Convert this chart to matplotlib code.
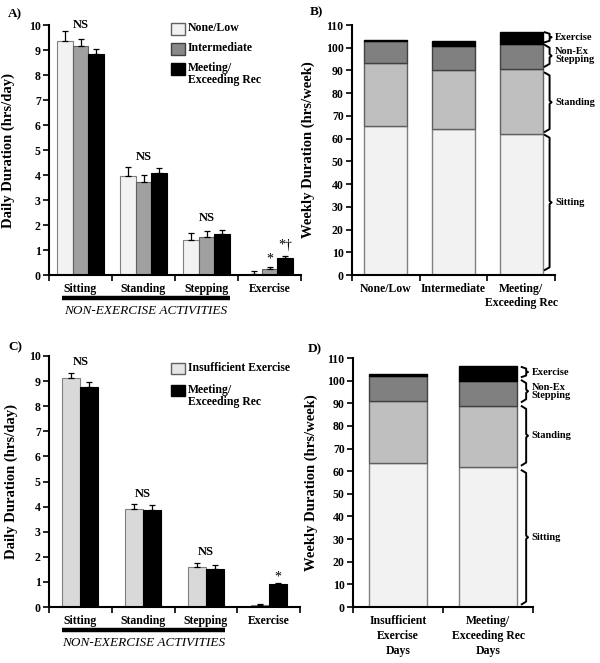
import matplotlib
matplotlib.use("Agg")
import matplotlib.pyplot as plt
import matplotlib.transforms as mtransforms
import numpy as np

plt.rcParams['font.family'] = ['Liberation Serif', 'DejaVu Serif']
plt.rcParams['font.weight'] = 'bold'

# ---------------- data ----------------
activities = ["Sitting", "Standing", "Stepping", "Exercise"]

# Panel A: daily durations (hrs/day) by group
groupsA = ["None/Low", "Intermediate", "Meeting/\nExceeding Rec"]
a_none = [9.37, 3.97, 1.40, 0.03]
a_none_err = [0.38, 0.36, 0.28, 0.12]
a_inter = [9.15, 3.73, 1.53, 0.25]
a_inter_err = [0.30, 0.27, 0.22, 0.08]
a_meet = [8.85, 4.07, 1.63, 0.70]
a_meet_err = [0.20, 0.20, 0.17, 0.07]

# Panel B: weekly durations (hrs/week), stacked
groupsB = ["None/Low", "Intermediate", "Meeting/\nExceeding Rec"]
b_sitting = [65.6, 64.1, 61.9]
b_standing = [27.5, 26.0, 28.6]
b_stepping = [10.0, 10.7, 11.0]
b_exercise = [0.3, 2.0, 5.3]

# Panel C: daily durations (hrs/day) by day type
groupsC = ["Insufficient Exercise", "Meeting/\nExceeding Rec"]
c_insuf = [9.13, 3.91, 1.60, 0.09]
c_insuf_err = [0.20, 0.21, 0.15, 0.04]
c_meet = [8.75, 3.86, 1.53, 0.90]
c_meet_err = [0.22, 0.19, 0.16, 0.07]

# Panel D: weekly durations (hrs/week), stacked
groupsD = ["Insufficient\nExercise\nDays", "Meeting/\nExceeding Rec\nDays"]
d_sitting = [63.6, 61.7]
d_standing = [27.3, 27.1]
d_stepping = [11.2, 11.1]
d_exercise = [1.0, 6.7]

seg_names = ["Exercise", "Non-Ex\nStepping", "Standing", "Sitting"]

# ---------------- style ----------------
C_LIGHT = "#f2f2f2"
C_MID = "#a0a0a0"
C_STAND = "#bfbfbf"
C_STEP = "#808080"
C_BLACK = "#000000"
TICK_FS = 8.5
LBL_FS = 10.5

fig = plt.figure(figsize=(6.0, 6.63), dpi=100)
H = 663.0
W = 600.0


def add_axes(l, r, top, bottom):
    return fig.add_axes([l / W, 1 - bottom / H, (r - l) / W, (bottom - top) / H])


def style_axes(ax, ngroups, ymax, ystep, labels):
    for s in ["top", "right"]:
        ax.spines[s].set_visible(False)
    for s in ["left", "bottom"]:
        ax.spines[s].set_linewidth(1.5)
    ax.set_xlim(0, ngroups)
    ax.set_ylim(0, ymax)
    ax.set_yticks(np.arange(0, ymax + 0.1, ystep))
    ax.tick_params(axis='y', direction='out', length=4, width=1.2, labelsize=TICK_FS, pad=2)
    ax.set_xticks(np.arange(ngroups) + 0.5)
    ax.set_xticklabels(labels, fontsize=TICK_FS, fontweight='bold')
    ax.tick_params(axis='x', which='major', length=0, pad=6)
    ax.set_xticks(np.arange(ngroups + 1), minor=True)
    ax.tick_params(axis='x', which='minor', direction='out', length=4, width=1.2)
    for lab in ax.get_yticklabels():
        lab.set_fontweight('bold')


def legend_boxes(ax, items, x0, tops, bw, bh):
    for (label, color, ec), t in zip(items, tops):
        ax.add_patch(plt.Rectangle((x0, t - bh), bw, bh, transform=ax.transAxes,
                                   facecolor=color, edgecolor=ec, lw=1.0, clip_on=False))
        ax.text(x0 + bw + 0.012, t + 0.006, label, transform=ax.transAxes,
                ha='left', va='top', fontsize=8.5, fontweight='bold', linespacing=1.05)


def non_ex_line(ax, x0, x1, ly, ty):
    tr = mtransforms.blended_transform_factory(ax.transData, ax.transAxes)
    ax.plot([x0, x1], [ly, ly], transform=tr, color='black', lw=3.2,
            solid_capstyle='butt', clip_on=False)
    ax.text((x0 + x1) / 2, ty, "NON-EXERCISE ACTIVITIES", transform=tr,
            ha='center', va='center', fontsize=9.5, fontstyle='italic', fontweight='normal')


def brace(ax, x0, x1, lo, hi, label, xt, fs=7.5):
    d = min(1.2, (hi - lo) * 0.15)
    mid = (lo + hi) / 2
    xm = x0 + (x1 - x0) * 0.7
    xs = [x0, xm, xm, x1, xm, xm, x0]
    ys = [hi, hi - d, mid + d * 0.6, mid, mid - d * 0.6, lo + d, lo]
    ax.plot(xs, ys, color='black', lw=1.4, clip_on=False)
    ax.text(xt, mid, label, ha='left', va='center', fontsize=fs, fontweight='bold',
            linespacing=0.9)


# ---------------- Panel A ----------------
axA = add_axes(49, 301, 25, 275)
x = np.arange(len(activities)) + 0.5
wA = 0.25
err_kw = dict(ecolor='black', elinewidth=0.9, capsize=2.5, capthick=0.9)
for vals, errs, off, fc, ec in [(a_none, a_none_err, -wA, C_LIGHT, '#808080'),
                                (a_inter, a_inter_err, 0.0, C_MID, '#606060'),
                                (a_meet, a_meet_err, wA, C_BLACK, '#000000')]:
    axA.bar(x + off, vals, width=wA, color=fc, edgecolor=ec, lw=0.8,
            yerr=[np.zeros(len(vals)), errs], error_kw=err_kw, zorder=2)
style_axes(axA, 4, 10, 1, activities)
axA.set_ylabel("Daily Duration (hrs/day)", fontsize=LBL_FS, fontweight='bold')
axA.yaxis.set_label_coords(-0.135, 0.5)
for xi, yi in [(0.5, 10.0), (1.5, 4.72), (2.5, 2.27)]:
    axA.text(xi, yi, "NS", ha='center', va='center', fontsize=9, fontweight='bold')
axA.text(3.5, 0.62, "*", ha='center', va='center', fontsize=10, fontweight='normal')
axA.text(3.75, 1.17, "*\u2020", ha='center', va='center', fontsize=10, fontweight='normal')
legend_boxes(axA, [(groupsA[0], C_LIGHT, '#606060'), (groupsA[1], '#888888', '#404040'),
                   (groupsA[2], C_BLACK, '#000000')],
             0.484, [1.008, 0.928, 0.848], 0.056, 0.048)
non_ex_line(axA, 0.21, 2.87, -0.09, -0.145)
fig.text(8 / W, 1 - 14 / H, "A)", fontsize=9.5, fontweight='bold', va='center')

# ---------------- Panel B ----------------
axB = add_axes(352, 555, 25, 275)
xb = np.arange(len(groupsB)) + 0.5
bw = 0.64
bottom = np.zeros(len(groupsB))
for vals, fc, ec in [(b_sitting, C_LIGHT, '#808080'), (b_standing, C_STAND, '#606060'),
                     (b_stepping, C_STEP, '#404040'), (b_exercise, C_BLACK, '#000000')]:
    axB.bar(xb, vals, bottom=bottom, width=bw, color=fc, edgecolor=ec, lw=1.0, zorder=2)
    bottom = bottom + np.array(vals)
style_axes(axB, 3, 110, 10, groupsB)
axB.set_ylabel("Weekly Duration (hrs/week)", fontsize=LBL_FS, fontweight='bold')
axB.yaxis.set_label_coords(-0.18, 0.5)
for (lo, hi), name in zip([(102.4, 106.8), (91.7, 101.2), (63.0, 89.0), (2.2, 61.6)], seg_names):
    brace(axB, 2.85, 2.95, lo, hi, name, 3.0)
fig.text(310 / W, 1 - 12 / H, "B)", fontsize=9.5, fontweight='bold', va='center')

# ---------------- Panel C ----------------
axC = add_axes(49, 300, 356, 607)
wC = 0.285
for vals, errs, off, fc, ec in [(c_insuf, c_insuf_err, -wC / 2, '#d9d9d9', '#808080'),
                                (c_meet, c_meet_err, wC / 2, C_BLACK, '#000000')]:
    axC.bar(x + off, vals, width=wC, color=fc, edgecolor=ec, lw=0.8,
            yerr=[np.zeros(len(vals)), errs], error_kw=err_kw, zorder=2)
style_axes(axC, 4, 10, 1, activities)
axC.set_ylabel("Daily Duration (hrs/day)", fontsize=LBL_FS, fontweight='bold')
axC.yaxis.set_label_coords(-0.125, 0.5)
for xi, yi in [(0.5, 9.77), (1.5, 4.52), (2.5, 2.19)]:
    axC.text(xi, yi, "NS", ha='center', va='center', fontsize=9, fontweight='bold')
axC.text(3.5 + wC / 2, 1.2, "*", ha='center', va='center', fontsize=10, fontweight='normal')
legend_boxes(axC, [(groupsC[0], '#e6e6e6', '#606060'), (groupsC[1], C_BLACK, '#000000')],
             0.486, [0.972, 0.884], 0.056, 0.044)
non_ex_line(axC, 0.21, 2.80, -0.092, -0.145)
fig.text(8 / W, 1 - 347 / H, "C)", fontsize=9.5, fontweight='bold', va='center')

# ---------------- Panel D ----------------
axD = add_axes(353, 533, 358, 607)
xd = np.arange(len(groupsD)) + 0.5
bottom = np.zeros(len(groupsD))
for vals, fc, ec in [(d_sitting, C_LIGHT, '#808080'), (d_standing, C_STAND, '#606060'),
                     (d_stepping, C_STEP, '#404040'), (d_exercise, C_BLACK, '#000000')]:
    axD.bar(xd, vals, bottom=bottom, width=bw, color=fc, edgecolor=ec, lw=1.0, zorder=2)
    bottom = bottom + np.array(vals)
style_axes(axD, 2, 110, 10, groupsD)
for lab in axD.get_xticklabels():
    lab.set_linespacing(1.3)
axD.set_ylabel("Weekly Duration (hrs/week)", fontsize=LBL_FS, fontweight='bold')
axD.yaxis.set_label_coords(-0.195, 0.5)
for (lo, hi), name in zip([(101.6, 106.0), (90.6, 100.1), (62.6, 88.7), (1.2, 60.4)], seg_names):
    brace(axD, 1.875, 1.945, lo, hi, name, 1.985)
fig.text(308 / W, 1 - 349 / H, "D)", fontsize=9.5, fontweight='bold', va='center')

fig.savefig("out.png", dpi=100)
